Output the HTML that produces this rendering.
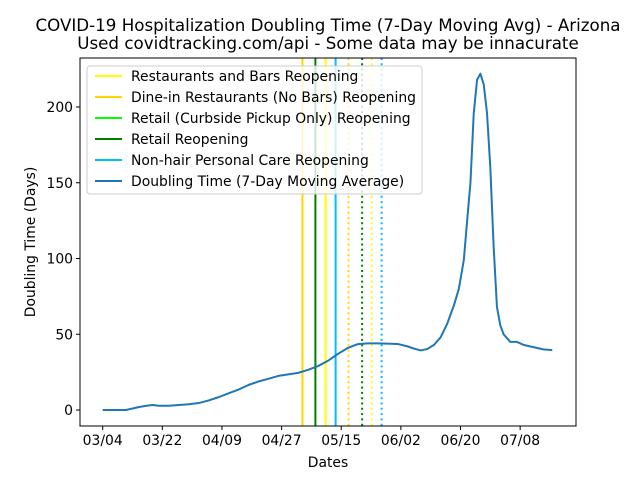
<!DOCTYPE html>
<html><head><meta charset="utf-8"><style>
body{margin:0;background:#fff}
svg text{font-family:"DejaVu Sans","Liberation Sans",sans-serif;fill:#000}
</style></head><body>
<svg id="chart" width="640" height="480" viewBox="0 0 640 480">
<rect x="0" y="0" width="640" height="480" fill="#fff"/>
<text x="328" y="31" font-size="16.7" text-anchor="middle">COVID-19 Hospitalization Doubling Time (7-Day Moving Avg) - Arizona</text>
<text x="328" y="49" font-size="16.7" text-anchor="middle">Used covidtracking.com/api - Some data may be innacurate</text>
<g id="vlines"></g>
<g id="series"></g>
<g id="axes"></g>
<text x="328" y="467" font-size="13.9" text-anchor="middle">Dates</text>
<text transform="translate(35,242) rotate(-90)" font-size="13.9" text-anchor="middle">Doubling Time (Days)</text>
<g id="legend"></g>
</svg>
<script>
const dayValues=[0,3,6,7,9,11,13,15,17,20,23,26,29,32,35,38,41,44,47,50,53,56,59,62,65,68,71,74,77,80,83,86,89,92,94,96,98,100,102,104,106,107.5,109,110,111,112,113,114,115,116,117,118,119,120,121,123,125,127,129,131,133,135.7];
const doubling=[0,0,0,0,1,2,2.7,3.3,2.8,2.8,3.3,3.8,4.6,6.3,8.5,11,13.5,16.5,18.8,20.6,22.5,23.5,24.5,26.5,29,32.5,37,41,43.5,44,44,43.8,43.6,42,40.5,39.3,40.3,43,48,57,69,80,99,125,150,196,218,222,215,196,160,108,68,56,50,45,45,43,42,41,40,39.5];
const eventDays=[60.3,64.2,67.3,70.3,74.2,78.3,81.2,84.2];
const eventColors=["#FFD700","#008000","#FFFF00","#00BFFF","#FFD700","#008000","#FFFF00","#00BFFF"];
const eventDotted=[false,false,false,false,true,true,true,true];
const xTickDays=[0,18,36,54,72,90,108,126];
const xTickLabels=["03/04","03/22","04/09","04/27","05/15","06/02","06/20","07/08"];
const yTicks=[0,50,100,150,200];
const legendLabels=["Restaurants and Bars Reopening","Dine-in Restaurants (No Bars) Reopening","Retail (Curbside Pickup Only) Reopening","Retail Reopening","Non-hair Personal Care Reopening","Doubling Time (7-Day Moving Average)"];
const legendColors=["#FFFF00","#FFD700","#00FF00","#008000","#00BFFF","#1f77b4"];

const NS="http://www.w3.org/2000/svg";
const L=80,R=576,T=58,B=426;
const X=d=>102.7+d*3.313;
const Y=v=>410-v*1.515;
function mk(tag,attrs,parent){const e=document.createElementNS(NS,tag);for(const k in attrs)e.setAttribute(k,attrs[k]);parent.appendChild(e);return e;}

const vg=document.getElementById('vlines');
eventDays.forEach((d,i)=>{
  const l=mk('line',{x1:X(d),x2:X(d),y1:T,y2:B,stroke:eventColors[i],'stroke-width':2,'stroke-dasharray':eventDotted[i]?'2,3.3':'none'},vg);
  
  
});
const sg=document.getElementById('series');
const p=mk('polyline',{points:dayValues.map((d,i)=>X(d)+','+Y(doubling[i])).join(' '),fill:'none',stroke:'#1f77b4','stroke-width':2,'stroke-linejoin':'round'},sg);



const ag=document.getElementById('axes');
const fr=mk('rect',{x:L,y:T,width:R-L,height:B-T,fill:'none',stroke:'#000','stroke-width':1},ag);


xTickDays.forEach((d,i)=>{
  mk('line',{x1:X(d),x2:X(d),y1:B,y2:B+4,stroke:'#000'},ag);
  const t=mk('text',{x:X(d),y:B+19,'font-size':13.9,'text-anchor':'middle'},ag);
  t.textContent=xTickLabels[i];
  
  
});
yTicks.forEach(v=>{
  mk('line',{x1:L-4,x2:L,y1:Y(v),y2:Y(v),stroke:'#000'},ag);
  const t=mk('text',{x:L-7,y:Y(v)+5,'font-size':13.9,'text-anchor':'end'},ag);
  t.textContent=v;
  
  
});

const lg=document.getElementById('legend');
const box=mk('rect',{x:87,y:66,width:335,height:128,rx:3,fill:'#fff','fill-opacity':0.8,stroke:'#ccc'},lg);


legendLabels.forEach((s,i)=>{
  const y=76+i*21;
  mk('line',{x1:95,x2:122,y1:y,y2:y,stroke:legendColors[i],'stroke-width':2},lg);
  const t=mk('text',{x:131,y:y+5,'font-size':13.9},lg);
  t.textContent=s;
  
  
});
</script>
</body></html>
